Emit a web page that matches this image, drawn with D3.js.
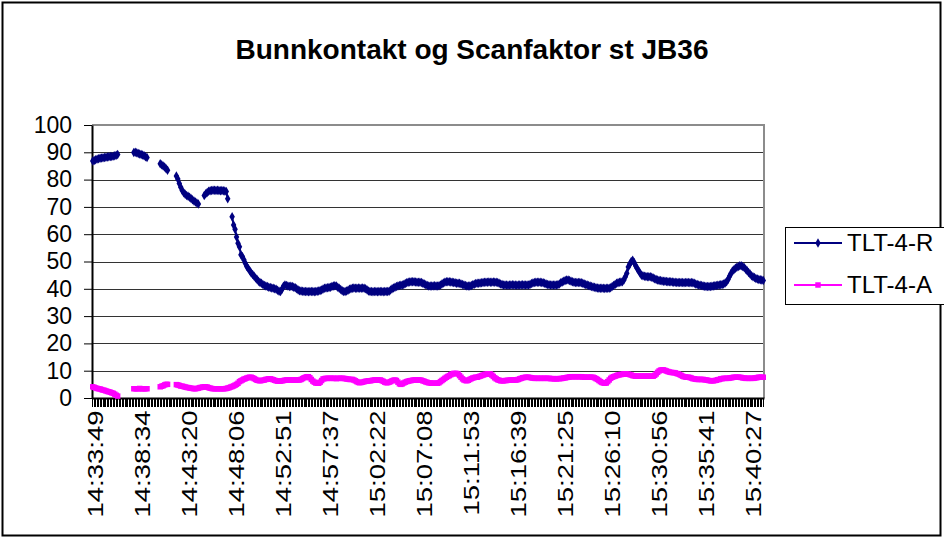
<!DOCTYPE html>
<html>
<head>
<meta charset="utf-8">
<script src="https://cdn.jsdelivr.net/npm/d3@7"></script>
<style>
  body { margin: 0; background: #fff; }
  svg text { font-family: "Liberation Sans", Arial, sans-serif; }
</style>
</head>
<body>
<div id="container"></div>
<script>
// x-axis labels, one every labelStep samples
var tickLabels = ['14:33:49', '14:38:34', '14:43:20', '14:48:06', '14:52:51', '14:57:37',
  '15:02:22', '15:07:08', '15:11:53', '15:16:39', '15:21:25', '15:26:10', '15:30:56',
  '15:35:41', '15:40:27']
var labelStep = 32

var seriesNames = ['TLT-4-R', 'TLT-4-A']

// TLT-4-R (bunnkontakt)
var tltR = [
  86.8,87.0,87.3,87.5,87.6,87.8,87.9,88.0,88.1,88.2,
  88.3,88.4,88.5,88.5,88.6,88.7,88.9,89.2,null,null,
  null,null,null,null,null,null,null,null,89.9,90.0,
  89.8,89.6,89.4,89.2,89.0,88.7,88.4,88.1,null,null,
  null,null,null,null,null,null,85.8,85.4,85.0,84.6,
  84.0,83.4,null,null,null,null,null,81.3,80.2,78.6,
  77.2,76.0,75.2,74.6,74.2,73.9,73.5,73.1,72.6,72.2,
  71.8,71.4,71.1,null,null,null,74.2,74.8,75.3,75.7,
  75.9,76.0,76.1,76.1,76.0,76.1,76.0,75.9,76.0,75.9,
  75.8,75.6,73.0,null,null,66.4,63.4,61.8,59.0,56.7,
  55.4,52.5,51.8,50.6,49.4,48.2,47.4,46.6,45.8,45.2,
  44.6,44.0,43.4,42.8,42.3,42.0,41.6,41.2,41.0,40.8,
  40.6,40.5,40.3,40.2,40.0,39.8,39.5,39.1,39.0,39.8,
  40.9,41.4,41.2,41.0,40.8,40.9,40.8,40.6,40.4,40.0,
  39.6,39.3,39.2,39.1,39.0,39.0,39.0,38.9,39.0,39.0,
  39.0,38.9,39.0,39.1,39.2,39.4,39.6,39.9,40.2,40.3,
  40.4,40.5,40.6,40.8,41.0,41.1,41.0,40.6,40.2,39.7,
  39.3,39.0,39.0,39.2,39.5,39.8,40.0,40.2,40.3,40.2,
  40.2,40.3,40.2,40.2,40.3,40.2,40.0,39.6,39.2,39.0,
  39.0,38.9,39.0,39.0,38.9,39.0,39.0,39.0,38.9,39.0,
  39.0,39.0,39.1,39.6,40.0,40.3,40.6,40.8,41.0,41.2,
  41.3,41.4,41.6,41.9,42.2,42.4,42.5,42.6,42.6,42.6,
  42.5,42.4,42.4,42.4,42.3,42.0,41.8,41.5,41.2,41.0,
  41.0,41.0,41.0,41.1,41.0,41.0,41.1,41.4,41.8,42.1,
  42.4,42.6,42.6,42.6,42.5,42.4,42.3,42.2,42.0,42.0,
  42.0,41.8,41.6,41.4,41.2,41.0,41.0,41.0,41.2,41.5,
  41.7,41.9,42.0,42.0,42.1,42.2,42.3,42.4,42.4,42.4,
  42.5,42.4,42.4,42.5,42.4,42.4,42.3,42.0,41.8,41.6,
  41.4,41.4,41.4,41.3,41.4,41.4,41.5,41.4,41.4,41.3,
  41.4,41.4,41.4,41.5,41.4,41.4,41.4,41.4,41.6,41.9,
  42.1,42.3,42.4,42.4,42.4,42.4,42.3,42.2,42.0,41.8,
  41.6,41.5,41.4,41.4,41.4,41.4,41.4,41.5,41.8,42.2,
  42.5,42.8,43.0,43.2,43.2,43.0,42.8,42.6,42.4,42.3,
  42.3,42.3,42.3,42.2,42.0,41.8,41.6,41.4,41.2,41.0,
  40.8,40.7,40.6,40.4,40.3,40.2,40.2,40.2,40.2,40.1,
  40.2,40.2,40.2,40.4,40.8,41.2,41.6,42.0,42.2,42.4,
  42.5,42.6,43.2,44.4,45.7,48.0,49.0,50.0,50.5,49.6,
  48.4,47.5,46.6,45.8,45.0,44.8,44.6,44.5,44.4,44.4,
  44.4,44.2,44.0,43.7,43.4,43.2,43.0,43.0,42.9,42.8,
  42.8,42.7,42.6,42.6,42.6,42.5,42.4,42.4,42.3,42.3,
  42.3,42.3,42.3,42.2,42.3,42.3,42.3,42.2,42.3,42.2,
  42.0,41.8,41.6,41.4,41.3,41.2,41.0,40.9,40.8,40.8,
  40.8,40.8,40.9,41.0,41.1,41.2,41.3,41.4,41.5,41.6,
  41.8,42.1,42.6,43.4,44.6,45.6,46.5,47.0,47.5,47.9,
  48.2,48.4,48.4,48.2,47.8,47.2,46.6,46.0,45.4,44.8,
  44.4,44.1,43.8,43.6,43.4,43.3,43.2,43.0
]

// TLT-4-A (scanfaktor)
var tltA = [
  4.1,3.9,3.7,3.5,3.4,3.3,3.1,2.9,2.8,2.6,
  2.4,2.3,2.1,1.9,1.7,1.4,1.0,0.7,null,null,
  null,null,null,null,null,null,null,null,3.4,3.4,
  3.4,3.4,3.5,3.4,3.4,3.4,3.4,3.4,null,null,
  null,null,null,null,null,null,4.1,4.3,4.5,4.8,
  5.0,5.0,null,null,null,null,null,4.9,4.8,4.6,
  4.4,4.3,4.2,4.0,3.9,3.8,3.7,3.6,3.5,3.4,
  3.4,3.5,3.6,3.8,3.9,4.0,4.1,4.1,4.0,3.8,
  3.6,3.5,3.4,3.4,3.4,3.4,3.4,3.4,3.4,3.4,
  3.4,3.5,3.6,3.8,4.0,4.2,4.4,4.7,5.0,5.4,
  6.0,6.3,6.6,6.9,7.1,7.3,7.5,7.6,7.6,7.4,
  7.1,6.8,6.5,6.4,6.3,6.4,6.5,6.6,6.8,6.9,
  7.0,7.0,6.9,6.7,6.5,6.3,6.2,6.2,6.2,6.3,
  6.4,6.5,6.6,6.6,6.6,6.6,6.6,6.5,6.6,6.6,
  6.6,6.6,6.8,7.1,7.4,7.6,7.8,7.8,7.4,6.8,
  6.2,5.8,5.5,5.4,5.4,5.8,6.4,7.0,7.1,7.2,
  7.2,7.2,7.2,7.2,7.2,7.2,7.1,7.2,7.2,7.2,
  7.2,7.2,7.1,7.0,6.9,6.8,6.8,6.8,6.6,6.3,
  6.0,5.7,5.6,5.7,5.8,6.0,6.1,6.2,6.3,6.3,
  6.4,6.5,6.6,6.6,6.6,6.6,6.6,6.4,6.1,5.8,
  5.6,5.6,5.8,6.0,6.3,6.5,6.6,6.4,5.8,5.2,
  5.0,5.2,5.5,5.8,6.0,6.2,6.3,6.4,6.5,6.6,
  6.6,6.6,6.6,6.6,6.5,6.3,6.1,5.9,5.7,5.6,
  5.5,5.4,5.4,5.4,5.4,5.4,5.6,6.0,6.4,6.8,
  7.2,7.6,7.9,8.2,8.5,8.8,9.0,9.0,9.0,8.8,
  8.2,7.6,7.0,6.6,6.4,6.3,6.5,6.8,7.1,7.3,
  7.5,7.6,7.6,7.8,8.0,8.2,8.4,8.6,8.7,8.8,
  8.8,8.8,8.4,7.9,7.4,7.0,6.7,6.5,6.3,6.3,
  6.3,6.4,6.4,6.5,6.5,6.6,6.6,6.6,6.6,6.6,
  6.8,7.0,7.2,7.4,7.5,7.6,7.6,7.6,7.5,7.4,
  7.3,7.2,7.2,7.2,7.2,7.2,7.2,7.2,7.2,7.2,
  7.2,7.2,7.1,7.1,7.1,7.0,7.0,7.1,7.1,7.1,
  7.2,7.3,7.4,7.5,7.6,7.7,7.8,7.8,7.8,7.8,
  7.8,7.8,7.8,7.8,7.7,7.6,7.6,7.6,7.6,7.6,
  7.6,7.6,7.4,7.1,6.8,6.4,6.0,5.7,5.5,5.4,
  5.5,6.0,6.6,7.2,7.6,7.8,8.0,8.2,8.4,8.5,
  8.6,8.7,8.8,8.8,8.8,8.7,8.6,8.4,8.2,8.1,
  8.0,8.0,8.0,8.0,8.0,8.0,8.0,8.0,8.0,8.0,
  8.0,8.0,8.0,8.3,8.8,9.4,9.9,10.2,10.3,10.3,
  10.1,9.9,9.7,9.5,9.4,9.3,9.3,9.2,9.0,8.8,
  8.6,8.3,8.0,7.8,7.7,7.6,7.6,7.5,7.3,7.1,
  7.0,6.9,6.8,6.8,6.8,6.8,6.8,6.7,6.6,6.5,
  6.4,6.3,6.3,6.3,6.4,6.5,6.7,6.8,7.0,7.1,
  7.2,7.2,7.2,7.2,7.3,7.4,7.5,7.6,7.6,7.6,
  7.6,7.6,7.5,7.4,7.3,7.2,7.2,7.2,7.2,7.2,
  7.2,7.3,7.4,7.5,7.6,7.6,7.6,7.6
]

var yTicks = [0, 10, 20, 30, 40, 50, 60, 70, 80, 90, 100]

var width = 944, height = 539
var plot = { left: 92, right: 764, top: 125, bottom: 398 }
var colors = ['#000080', '#ff00ff']

var svg = d3.select('#container').append('svg')
  .attr('width', width).attr('height', height)

// chart border
svg.append('rect')
  .attr('x', 2.5).attr('y', 2.5).attr('width', 938).attr('height', 533)
  .attr('fill', '#fff').attr('stroke', '#000').attr('stroke-width', 2)

svg.append('text')
  .attr('x', 472).attr('y', 59)
  .attr('text-anchor', 'middle')
  .attr('font-size', 28).attr('font-weight', 'bold')
  .text('Bunnkontakt og Scanfaktor st JB36')

var idx = d3.range(tltR.length)
var x = d3.scaleBand().domain(idx).range([plot.left, plot.right]).padding(0)
var y = d3.scaleLinear().domain([0, 100]).range([plot.bottom, plot.top])
var cx = function (i) { return x(i) + x.bandwidth() / 2 }

// gridlines
svg.append('g').selectAll('line')
  .data(yTicks.filter(function (d) { return d > 0 && d < 100 }))
  .enter().append('line')
  .attr('x1', plot.left).attr('x2', plot.right)
  .attr('y1', function (d) { return Math.round(y(d)) + 0.5 })
  .attr('y2', function (d) { return Math.round(y(d)) + 0.5 })
  .attr('stroke', '#333').attr('stroke-width', 1)

// plot area border (top, right)
svg.append('path')
  .attr('d', 'M' + plot.left + ',' + plot.top + 'H' + plot.right + 'V' + plot.bottom)
  .attr('fill', 'none').attr('stroke', '#8c8c8c').attr('stroke-width', 2)

// x axis
var xAxis = d3.axisBottom(x)
  .tickSize(9).tickSizeOuter(0)
  .tickFormat(function (i) { return i % labelStep === 0 ? tickLabels[i / labelStep] : '' })
var gx = svg.append('g').attr('transform', 'translate(0,' + plot.bottom + ')').call(xAxis)
gx.select('.domain').attr('stroke', '#000').attr('stroke-width', 2)
gx.selectAll('.tick line').attr('stroke', '#000').attr('stroke-width', 1)
  .attr('shape-rendering', 'crispEdges')
gx.selectAll('.tick text')
  .attr('font-size', 22).attr('fill', '#000')
  .attr('text-anchor', 'end')
  .attr('transform', 'translate(3,0) rotate(-90) scale(1.25,1)')
  .attr('x', -10).attr('y', 0).attr('dy', '0.35em')

// y axis
var yAxis = d3.axisLeft(y).tickValues(yTicks).tickSize(8).tickSizeOuter(0)
var gy = svg.append('g').attr('transform', 'translate(' + plot.left + ',0)').call(yAxis)
gy.select('.domain').attr('stroke', '#000').attr('stroke-width', 2)
gy.selectAll('.tick line').attr('stroke', '#000')
gy.selectAll('.tick text').attr('font-size', 23).attr('fill', '#000').attr('x', -20)

// series
var series = [tltR, tltA]
series.forEach(function (data, s) {
  var line = d3.line()
    .defined(function (i) { return data[i] != null })
    .x(cx).y(function (i) { return y(data[i]) })
  svg.append('path').datum(idx)
    .attr('d', line)
    .attr('fill', 'none').attr('stroke', colors[s]).attr('stroke-width', 2)

  var pts = idx.filter(function (i) { return data[i] != null })
  var sym = s === 0 ? d3.symbolDiamond : d3.symbolSquare
  svg.append('g').selectAll('path').data(pts).enter().append('path')
    .attr('transform', function (i) { return 'translate(' + cx(i) + ',' + y(data[i]) + ')' })
    .attr('d', d3.symbol().type(sym).size(s === 0 ? 26 : 30))
    .attr('fill', colors[s])
})

// legend
var legend = svg.append('g')
legend.append('rect')
  .attr('x', 785.5).attr('y', 227.5).attr('width', 160).attr('height', 77)
  .attr('fill', '#fff').attr('stroke', '#000').attr('stroke-width', 1)
seriesNames.forEach(function (name, s) {
  var ly = 243 + s * 42
  legend.append('line').attr('x1', 794).attr('x2', 842).attr('y1', ly).attr('y2', ly)
    .attr('stroke', colors[s]).attr('stroke-width', 2)
  legend.append('path')
    .attr('transform', 'translate(818,' + ly + ')')
    .attr('d', d3.symbol().type(s === 0 ? d3.symbolDiamond : d3.symbolSquare).size(s === 0 ? 26 : 30))
    .attr('fill', colors[s])
  legend.append('text').attr('x', 847).attr('y', ly).attr('dy', '0.35em')
    .attr('font-size', 24).text(name)
})
</script>
</body>
</html>
